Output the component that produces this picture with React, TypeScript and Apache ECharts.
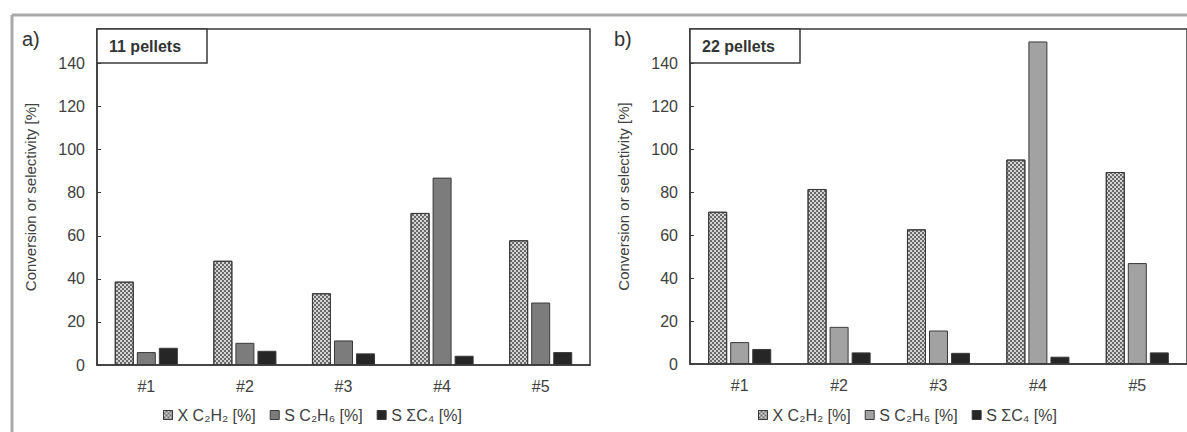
import React, { useEffect, useRef } from "react";
import * as echarts from "echarts";

const categories = ["#1", "#2", "#3", "#4", "#5"];
const seriesNames = ["X C\u2082H\u2082 [%]", "S C\u2082H\u2086 [%]", "S \u03a3C\u2084 [%]"];

// panel a) 11 pellets
const aXC2H2 = [38.7, 48.4, 33.3, 70.6, 57.9];
const aSC2H6 = [6.0, 10.3, 11.4, 87.0, 29.0];
const aSC4 = [8.0, 6.6, 5.4, 4.3, 6.0];

// panel b) 22 pellets
const bXC2H2 = [70.9, 81.5, 62.7, 95.2, 89.4];
const bSC2H6 = [10.2, 17.3, 15.6, 150.2, 47.0];
const bSC4 = [7.0, 5.4, 5.2, 3.4, 5.4];

const yTicks = [0, 20, 40, 60, 80, 100, 120, 140];

const FONT = "Liberation Sans, Arial, sans-serif";
const TXT = "#404040";
const EDGE = "#3a3a3a";

const decalX = {
  symbol: "rect",
  symbolSize: 1,
  color: "rgba(70,70,70,0.75)",
  dashArrayX: [
    [2, 2],
    [0, 2, 2, 0],
  ],
  dashArrayY: [2, 0],
  rotation: 0,
};

export default function App() {
  const ref = useRef<HTMLDivElement>(null);

  useEffect(() => {
    document.body.style.margin = "0";
    if (!ref.current) return;
    const chart = echarts.init(ref.current, undefined, { renderer: "svg" });

    const grids = [
      { left: 97, top: 29, width: 493, height: 336 },
      { left: 690, top: 29, width: 500, height: 335 },
    ];

    const xAxes = grids.map((_, i) => ({
      type: "category",
      gridIndex: i,
      data: categories,
      axisLine: { lineStyle: { color: EDGE, width: 1.5 } },
      axisTick: { show: false },
      axisLabel: { color: TXT, fontSize: 16, fontFamily: FONT, margin: 13 },
    }));

    const yAxes = grids.map((_, i) => ({
      type: "value",
      gridIndex: i,
      min: 0,
      max: 156,
      interval: 20,
      name: "Conversion or selectivity [%]",
      nameLocation: "middle",
      nameGap: 59,
      nameTextStyle: { color: TXT, fontSize: 15, fontFamily: FONT },
      splitLine: { show: false },
      axisLine: { show: true, lineStyle: { color: EDGE, width: 1.5 } },
      axisTick: { show: true, inside: true, length: 4, lineStyle: { color: EDGE } },
      axisLabel: {
        color: TXT,
        fontSize: 16,
        fontFamily: FONT,
        margin: 12,
        formatter: (v: number) => (yTicks.includes(v) ? String(v) : ""),
      },
    }));

    const mk = (name: string, data: number[], gi: number, color: string, decal?: any) => ({
      type: "bar",
      name,
      xAxisIndex: gi,
      yAxisIndex: gi,
      data,
      barWidth: 19,
      barGap: "16%",
      itemStyle: { color, borderColor: EDGE, borderWidth: 1, decal },
    });

    const series = [
      mk(seriesNames[0], aXC2H2, 0, "#d4d4d4", decalX),
      mk(seriesNames[1], aSC2H6, 0, "#7c7c7c"),
      mk(seriesNames[2], aSC4, 0, "#262626"),
      mk(seriesNames[0], bXC2H2, 1, "#d4d4d4", decalX),
      mk(seriesNames[1], bSC2H6, 1, "#a2a2a2"),
      mk(seriesNames[2], bSC4, 1, "#262626"),
    ];

    const legendBase = {
      orient: "horizontal",
      itemWidth: 9,
      itemHeight: 9,
      itemGap: 14,
      icon: "rect",
      textStyle: { color: TXT, fontSize: 16, fontFamily: FONT },
      selectedMode: false,
    };

    const legends = [
      {
        ...legendBase,
        left: 158,
        top: 402,
        data: [
          { name: seriesNames[0], itemStyle: { color: "#d4d4d4", decal: decalX, borderColor: EDGE, borderWidth: 1 } },
          { name: seriesNames[1], itemStyle: { color: "#7c7c7c", borderColor: EDGE, borderWidth: 1 } },
          { name: seriesNames[2], itemStyle: { color: "#262626", borderColor: EDGE, borderWidth: 1 } },
        ],
      },
      {
        ...legendBase,
        left: 753,
        top: 402,
        data: [
          { name: seriesNames[0], itemStyle: { color: "#d4d4d4", decal: decalX, borderColor: EDGE, borderWidth: 1 } },
          { name: seriesNames[1], itemStyle: { color: "#a2a2a2", borderColor: EDGE, borderWidth: 1 } },
          { name: seriesNames[2], itemStyle: { color: "#262626", borderColor: EDGE, borderWidth: 1 } },
        ],
      },
    ];

    const labelBox = (x: number, text: string) => ({
      type: "group",
      children: [
        {
          type: "rect",
          shape: { x, y: 29, width: 110, height: 34 },
          style: { fill: "#fff", stroke: EDGE, lineWidth: 1.5 },
          z: 10,
        },
        {
          type: "text",
          x: x + 12,
          y: 46,
          style: {
            text,
            fill: "#333",
            font: `bold 16px ${FONT}`,
            verticalAlign: "middle",
          },
          z: 11,
        },
      ],
    });

    chart.setOption({
      animation: false,
      backgroundColor: "#ffffff",
      grid: grids.map((g) => ({ ...g, show: true, borderColor: EDGE, borderWidth: 1.5, backgroundColor: "transparent" })),
      xAxis: xAxes,
      yAxis: yAxes,
      legend: legends,
      series,
      graphic: [
        {
          type: "line",
          shape: { x1: 12, y1: 15, x2: 1187, y2: 15 },
          style: { stroke: "#a9a9a9", lineWidth: 3 },
        },
        {
          type: "line",
          shape: { x1: 12, y1: 15, x2: 12, y2: 432 },
          style: { stroke: "#a9a9a9", lineWidth: 3 },
        },
        {
          type: "text",
          x: 22,
          y: 39,
          style: { text: "a)", fill: "#333", font: `20px ${FONT}`, verticalAlign: "middle" },
        },
        {
          type: "text",
          x: 614,
          y: 39,
          style: { text: "b)", fill: "#333", font: `20px ${FONT}`, verticalAlign: "middle" },
        },
        labelBox(97, "11 pellets"),
        labelBox(690, "22 pellets"),
      ],
    });

    return () => chart.dispose();
  }, []);

  return <div ref={ref} style={{ width: 1187, height: 432 }} />;
}
